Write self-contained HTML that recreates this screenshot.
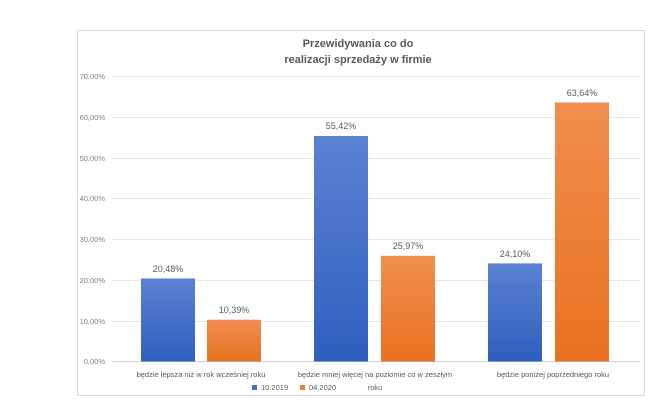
<!DOCTYPE html>
<html><head><meta charset="utf-8"><style>
body{margin:0;background:#fff;}
svg{display:block;font-family:"Liberation Sans",sans-serif;}
</style></head><body>
<svg width="660" height="402" viewBox="0 0 660 402">
<defs>
<linearGradient id="b" x1="0" y1="0" x2="0" y2="1"><stop offset="0" stop-color="#5b82d2"/><stop offset="1" stop-color="#2f5fbf"/></linearGradient>
<linearGradient id="o" x1="0" y1="0" x2="0" y2="1"><stop offset="0" stop-color="#f08d4e"/><stop offset="1" stop-color="#e8721f"/></linearGradient>
</defs>
<rect x="77.5" y="30.5" width="567" height="365" fill="#fff" stroke="#d9d9d9"/>
<text x="358" y="47" text-anchor="middle" font-size="11" font-weight="bold" fill="#595959">Przewidywania co do</text>
<text x="358" y="63" text-anchor="middle" font-size="11" font-weight="bold" fill="#595959">realizacji sprzedaży w firmie</text>
<g stroke="#e6e6e6" stroke-width="1">
<line x1="112" x2="640" y1="76.5" y2="76.5"/><line x1="112" x2="640" y1="117.5" y2="117.5"/>
<line x1="112" x2="640" y1="158.5" y2="158.5"/><line x1="112" x2="640" y1="198.5" y2="198.5"/>
<line x1="112" x2="640" y1="239.5" y2="239.5"/><line x1="112" x2="640" y1="280.5" y2="280.5"/>
<line x1="112" x2="640" y1="321.5" y2="321.5"/><line x1="112" x2="640" y1="361.5" y2="361.5" stroke="#d0d0d0"/>
</g>
<g font-size="7.5" fill="#7f7f7f" text-anchor="end">
<text x="105" y="79">70,00%</text><text x="105" y="120">60,00%</text><text x="105" y="161">50,00%</text>
<text x="105" y="201">40,00%</text><text x="105" y="242">30,00%</text><text x="105" y="283">20,00%</text>
<text x="105" y="324">10,00%</text><text x="105" y="364">0,00%</text>
</g>
<rect x="141" y="278.5" width="54" height="83" fill="url(#b)"/>
<rect x="207" y="319.7" width="54" height="41.8" fill="url(#o)"/>
<rect x="314" y="136" width="54" height="225.5" fill="url(#b)"/>
<rect x="381" y="255.8" width="54" height="105.7" fill="url(#o)"/>
<rect x="488" y="263.4" width="54" height="98.1" fill="url(#b)"/>
<rect x="555" y="102.5" width="54" height="259" fill="url(#o)"/>
<g font-size="9" fill="#595959" text-anchor="middle">
<text x="168" y="272">20,48%</text><text x="234" y="313">10,39%</text>
<text x="341" y="129">55,42%</text><text x="408" y="249">25,97%</text>
<text x="515" y="257">24,10%</text><text x="582" y="96">63,64%</text>
</g>
<g font-size="7.5" fill="#595959" text-anchor="middle">
<text x="201" y="377">będzie lepsza niż w rok wcześniej roku</text>
<text x="375" y="377">będzie mniej więcej na poziomie co w zeszłym</text>
<text x="375" y="390">roku</text>
<text x="553" y="377">będzie poniżej poprzedniego roku</text>
</g>
<rect x="252" y="385" width="5" height="5" fill="#4472c4"/>
<text x="261" y="390" font-size="7.5" fill="#595959">10.2019</text>
<rect x="300" y="385" width="5" height="5" fill="#ed7d31"/>
<text x="309" y="390" font-size="7.5" fill="#595959">04.2020</text>
</svg>
</body></html>
